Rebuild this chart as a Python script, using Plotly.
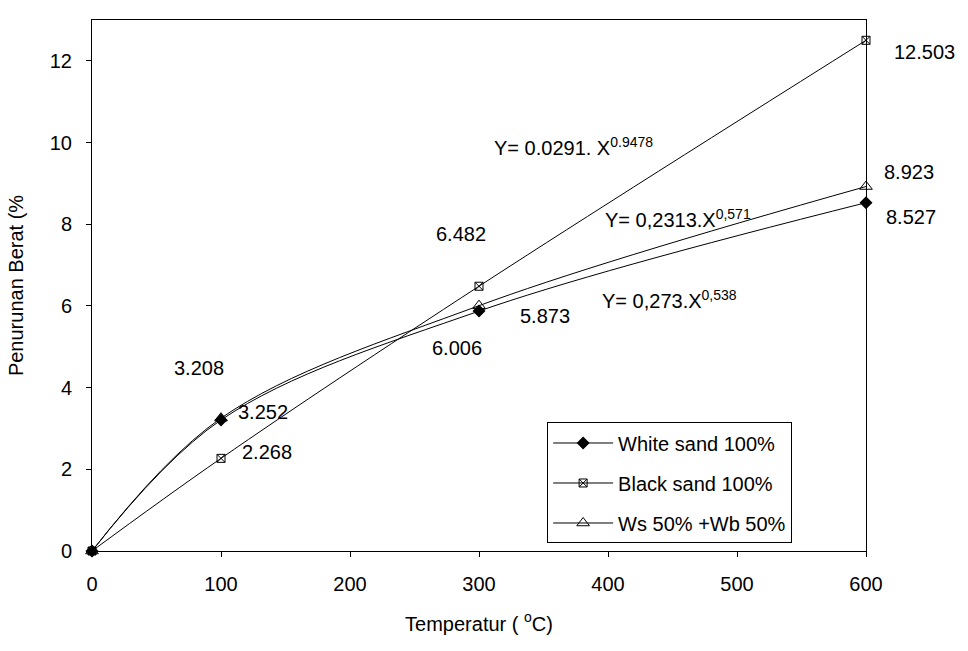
import plotly.graph_objects as go

temperature = [0, 100, 300, 600]
white_sand = [0, 3.208, 5.873, 8.527]
black_sand = [0, 2.268, 6.482, 12.503]
mix_sand = [0, 3.252, 6.006, 8.923]

series_names = ["White sand 100%", "Black sand 100%", "Ws 50% +Wb 50%"]
x_ticks = [0, 100, 200, 300, 400, 500, 600]
y_ticks = [0, 2, 4, 6, 8, 10, 12]

value_labels = ["12.503", "8.923", "8.527", "6.482", "5.873", "6.006", "3.208", "3.252", "2.268"]
equations = ["Y= 0.0291. X<sup>0.9478</sup>", "Y= 0,2313.X<sup>0,571</sup>", "Y= 0,273.X<sup>0,538</sup>"]

FONT = "Liberation Sans, Arial, sans-serif"
FS = 20

fig = go.Figure()
fig.add_trace(go.Scatter(
    x=temperature, y=white_sand, name=series_names[0], mode="lines+markers",
    line=dict(color="black", width=1, shape="spline"),
    marker=dict(symbol="diamond", size=10, color="black"),
    legendgroup="a", cliponaxis=False))
fig.add_trace(go.Scatter(
    x=temperature, y=black_sand, name=series_names[1], mode="lines+markers",
    line=dict(color="black", width=1, shape="spline"),
    marker=dict(symbol="square-x-open", size=8, color="black", line=dict(width=1)),
    legendgroup="b", cliponaxis=False))
fig.add_trace(go.Scatter(
    x=temperature, y=mix_sand, name=series_names[2], mode="lines+markers",
    line=dict(color="black", width=1, shape="spline"),
    marker=dict(symbol="triangle-up-open", size=11, color="black", line=dict(width=1)),
    legendgroup="c", cliponaxis=False))

label_pos = [(1.076, 0.940), (1.056, 0.714), (1.058, 0.629), (0.477, 0.597),
             (0.585, 0.443), (0.472, 0.382), (0.138, 0.345), (0.221, 0.262), (0.226, 0.186)]
annotations = []
for txt, (xp, yp) in zip(value_labels, label_pos):
    annotations.append(dict(text=txt, x=xp, y=yp, xref="paper", yref="paper",
                            showarrow=False, xanchor="center", yanchor="middle",
                            font=dict(size=FS, family=FONT, color="black")))
eq_pos = [(0.517, 0.762), (0.660, 0.626), (0.656, 0.474)]
for txt, (xp, yp) in zip(equations, eq_pos):
    annotations.append(dict(text=txt, x=xp, y=yp, xref="paper", yref="paper",
                            showarrow=False, xanchor="left", yanchor="middle",
                            font=dict(size=FS, family=FONT, color="black")))

fig.update_layout(
    width=968, height=651,
    margin=dict(l=92, r=102, t=20, b=100),
    paper_bgcolor="white", plot_bgcolor="white",
    font=dict(family=FONT, size=FS, color="black"),
    showlegend=True,
    legend=dict(x=0.588, y=0.242, xanchor="left", yanchor="top",
                bordercolor="black", borderwidth=1, bgcolor="white",
                tracegroupgap=11, itemwidth=60,
                font=dict(size=FS, family=FONT)),
    annotations=annotations,
)
fig.update_xaxes(
    range=[0, 600], tickvals=x_ticks, showgrid=False, zeroline=False,
    showline=True, linecolor="black", linewidth=1, mirror=True,
    ticks="outside", ticklen=5, tickcolor="black", ticklabelstandoff=10,
    tickfont=dict(size=FS),
    title=dict(text="Temperatur ( <sup>o</sup>C)", font=dict(size=FS), standoff=22))
fig.update_yaxes(
    range=[0, 13], tickvals=y_ticks, showgrid=False, zeroline=False,
    showline=True, linecolor="black", linewidth=1, mirror=True,
    ticks="outside", ticklen=5, tickcolor="black", ticklabelstandoff=10,
    tickfont=dict(size=FS),
    title=dict(text="Penurunan Berat (%", font=dict(size=FS), standoff=20))

fig.write_html("out.html")
